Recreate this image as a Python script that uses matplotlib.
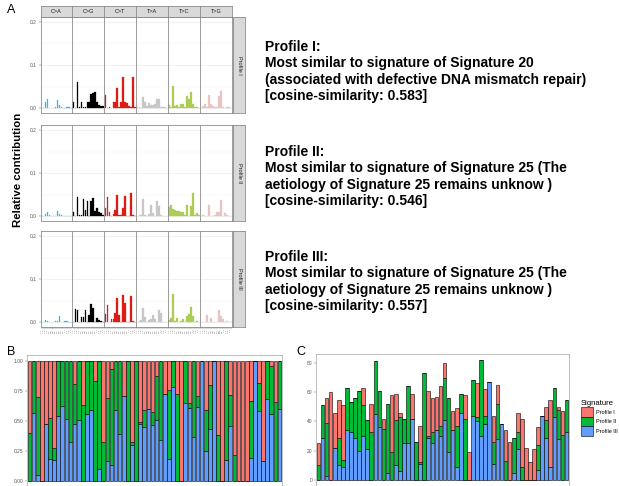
import numpy as np
import matplotlib
matplotlib.use("Agg")
import matplotlib.pyplot as plt
from matplotlib.patches import Patch

plt.rcParams['font.family'] = ['Liberation Sans', 'DejaVu Sans']

# ---- panel A: 96-channel profiles ----
mut_types = ["C>A", "C>G", "C>T", "T>A", "T>C", "T>G"]
mut_colors = ["#2EBAED", "#000000", "#DE1C14", "#C8C6C6", "#ADCC54", "#E8C4C2"]
contexts = ["A.A", "A.C", "A.G", "A.T", "C.A", "C.C", "C.G", "C.T",
            "G.A", "G.C", "G.G", "G.T", "T.A", "T.C", "T.G", "T.T"]
profile_names = ["Profile I", "Profile II", "Profile III"]

profile_1 = [
    0.001, 0.001, 0.013, 0.020, 0.001, 0.001, 0.001, 0.002, 0.018, 0.008, 0.002, 0.001, 0.001, 0.003, 0.002, 0.001,
    0.015, 0.000, 0.060, 0.003, 0.015, 0.002, 0.003, 0.015, 0.015, 0.033, 0.036, 0.037, 0.014, 0.008, 0.005, 0.004,
    0.031, 0.001, 0.002, 0.001, 0.013, 0.013, 0.047, 0.002, 0.013, 0.072, 0.013, 0.012, 0.004, 0.002, 0.071, 0.002,
    0.002, 0.003, 0.001, 0.026, 0.015, 0.004, 0.012, 0.008, 0.006, 0.010, 0.022, 0.020, 0.003, 0.002, 0.002, 0.001,
    0.006, 0.003, 0.052, 0.004, 0.008, 0.003, 0.010, 0.009, 0.003, 0.028, 0.020, 0.038, 0.010, 0.002, 0.002, 0.001,
    0.001, 0.004, 0.009, 0.002, 0.031, 0.010, 0.004, 0.002, 0.002, 0.027, 0.040, 0.003, 0.001, 0.003, 0.003, 0.001,
]
profile_2 = [
    0.001, 0.001, 0.005, 0.010, 0.003, 0.001, 0.001, 0.001, 0.012, 0.005, 0.002, 0.001, 0.001, 0.001, 0.001, 0.001,
    0.010, 0.001, 0.045, 0.003, 0.003, 0.040, 0.015, 0.036, 0.001, 0.035, 0.043, 0.012, 0.018, 0.010, 0.006, 0.003,
    0.018, 0.045, 0.010, 0.001, 0.005, 0.013, 0.050, 0.002, 0.003, 0.018, 0.046, 0.001, 0.001, 0.054, 0.002, 0.001,
    0.001, 0.002, 0.003, 0.040, 0.003, 0.001, 0.005, 0.025, 0.006, 0.001, 0.035, 0.023, 0.002, 0.001, 0.001, 0.001,
    0.020, 0.025, 0.017, 0.013, 0.012, 0.011, 0.010, 0.010, 0.003, 0.025, 0.001, 0.024, 0.053, 0.002, 0.007, 0.002,
    0.001, 0.003, 0.001, 0.001, 0.026, 0.001, 0.001, 0.003, 0.010, 0.010, 0.037, 0.001, 0.008, 0.002, 0.001, 0.001,
]
profile_3 = [
    0.001, 0.001, 0.005, 0.002, 0.001, 0.001, 0.001, 0.002, 0.003, 0.013, 0.001, 0.001, 0.002, 0.002, 0.001, 0.001,
    0.001, 0.030, 0.029, 0.001, 0.012, 0.012, 0.029, 0.001, 0.016, 0.042, 0.033, 0.001, 0.010, 0.005, 0.003, 0.001,
    0.018, 0.039, 0.001, 0.008, 0.008, 0.020, 0.055, 0.017, 0.001, 0.063, 0.044, 0.001, 0.001, 0.061, 0.003, 0.001,
    0.001, 0.002, 0.005, 0.032, 0.012, 0.001, 0.004, 0.006, 0.017, 0.007, 0.001, 0.029, 0.022, 0.001, 0.001, 0.001,
    0.005, 0.010, 0.066, 0.002, 0.010, 0.001, 0.003, 0.008, 0.001, 0.014, 0.018, 0.034, 0.013, 0.001, 0.003, 0.001,
    0.001, 0.001, 0.001, 0.016, 0.001, 0.010, 0.001, 0.001, 0.001, 0.029, 0.013, 0.008, 0.001, 0.002, 0.001, 0.001,
]
profiles = [profile_1, profile_2, profile_3]

profile_notes = [
    ["Profile I:", "Most similar to signature of Signature 20",
     "(associated with defective DNA mismatch repair)", "[cosine-similarity: 0.583]"],
    ["Profile II:", "Most similar to signature of Signature 25 (The",
     "aetiology of Signature 25 remains unknow )", "[cosine-similarity: 0.546]"],
    ["Profile III:", "Most similar to signature of Signature 25 (The",
     "aetiology of Signature 25 remains unknow )", "[cosine-similarity: 0.557]"],
]

# ---- panels B and C: absolute contribution per sample ----
contrib_1 = [15, 0, 17, 60, 24, 26, 37, 0, 0, 0, 0, 12, 0, 19, 0, 0, 7, 0, 39, 18, 3,
             0, 0, 17, 0, 25, 0, 31, 23, 23, 27, 10, 0, 13, 12, 0, 16, 19, 0, 23, 0,
             18, 0, 18, 13, 0, 21, 26, 0, 13, 33, 22, 12, 21, 12, 0, 9, 46, 0, 2, 16, 0]
contrib_2 = [10, 22, 36, 0, 0, 19, 5, 29, 20, 27, 41, 21, 20, 33, 36, 25, 35, 47, 19, 31, 37,
             17, 39, 0, 26, 1, 73, 1, 8, 0, 7, 29, 37, 0, 28, 13, 42, 0, 24, 3, 52,
             6, 0, 15, 24, 0, 13, 0, 24, 12, 9, 0, 0, 0, 17, 0, 12, 0, 20, 20, 31, 22]
contrib_3 = [0, 29, 3, 0, 22, 10, 9, 34, 33, 29, 20, 30, 21, 0, 45, 36, 0, 5, 0, 10, 6,
             25, 25, 42, 0, 11, 0, 29, 25, 34, 30, 41, 19, 34, 9, 46, 0, 0, 44, 40, 30,
             38, 67, 11, 28, 38, 0, 0, 5, 21, 0, 0, 0, 0, 7, 44, 29, 9, 43, 28, 0, 33]
sig_colors = ["#F8766D", "#00BA38", "#619CFF"]

W, H = 619, 486
fig = plt.figure(figsize=(W / 100, H / 100), dpi=100)


def box(l, t, r, b):
    return [l / W, 1 - b / H, (r - l) / W, (b - t) / H]


border = "#8C8C8C"
tick_grey = "#555555"
col_edges = [40.5 + i * 31.9 for i in range(7)]
zero_rows = [108, 216, 322]
px_per_unit = 430
ylo, yhi = -0.0105, 0.2105

for r, vals in enumerate(profiles):
    top = zero_rows[r] - yhi * px_per_unit
    bot = zero_rows[r] - ylo * px_per_unit
    for c in range(6):
        ax = fig.add_axes(box(col_edges[c], top, col_edges[c + 1], bot))
        ax.bar(np.arange(1, 17), vals[c * 16:(c + 1) * 16], width=0.85,
               color=mut_colors[c], edgecolor=mut_colors[c], linewidth=0.2)
        ax.set_xlim(0.4, 16.6)
        ax.set_ylim(ylo, yhi)
        ax.set_yticks([0, 0.1, 0.2])
        ax.set_yticks([0.05, 0.15], minor=True)
        ax.grid(which="major", axis="y", color="#E6E6E6", lw=0.4)
        ax.grid(which="minor", axis="y", color="#F2F2F2", lw=0.3)
        ax.set_axisbelow(True)
        for s in ax.spines.values():
            s.set_color(border)
            s.set_linewidth(0.6)
        ax.tick_params(which="minor", length=0)
        if c == 0:
            ax.set_yticklabels(["0.0", "0.1", "0.2"], fontsize=3.5, color=tick_grey)
            ax.tick_params(axis="y", length=1.5, width=0.3, pad=1, color=tick_grey)
        else:
            ax.tick_params(axis="y", left=False, labelleft=False)
        if r == 2:
            ax.set_xticks(np.arange(1, 17))
            ax.set_xticklabels(contexts, rotation=90, fontsize=1.5, color=tick_grey)
            ax.tick_params(axis="x", length=1.2, width=0.3, pad=0.8, color=tick_grey)
        else:
            ax.set_xticks([])
        if r == 0:
            sax = fig.add_axes(box(col_edges[c], 6, col_edges[c + 1], top))
            sax.set_facecolor("#D9D9D9")
            sax.set_xticks([])
            sax.set_yticks([])
            for s in sax.spines.values():
                s.set_color(border)
                s.set_linewidth(0.6)
            sax.text(0.5, 0.5, mut_types[c], ha="center", va="center",
                     fontsize=4, color="#1A1A1A", transform=sax.transAxes)
    rax = fig.add_axes(box(233, top, 245, bot))
    rax.set_facecolor("#D9D9D9")
    rax.set_xticks([])
    rax.set_yticks([])
    for s in rax.spines.values():
        s.set_color(border)
        s.set_linewidth(0.6)
    rax.text(0.5, 0.5, profile_names[r], ha="center", va="center", rotation=-90,
             fontsize=4, color="#1A1A1A", transform=rax.transAxes)

fig.text(18 / W, 1 - 170 / H, "Relative contribution", rotation=90, ha="center",
         va="center", fontsize=8.2, fontweight="bold")

note_tops = [47, 152, 257]
for block, y0 in zip(profile_notes, note_tops):
    for k, line in enumerate(block):
        fig.text(265 / W, 1 - (y0 + k * 16.4) / H, line, ha="left", va="center",
                 fontsize=10, fontweight="bold")

fig.text(7 / W, 1 - 10 / H, "A", fontsize=9, va="center", ha="left")
fig.text(7 / W, 1 - 352 / H, "B", fontsize=9, va="center", ha="left")
fig.text(296 / W, 1 - 352 / H, "C", fontsize=9, va="center", ha="left")

# ---- B: relative, C: absolute ----
c1 = np.array(contrib_1, float)
c2 = np.array(contrib_2, float)
c3 = np.array(contrib_3, float)
tot = c1 + c2 + c3
x = np.arange(1, len(tot) + 1)


def stacked(ax, a3, a2, a1):
    ax.bar(x, a3, width=0.9, color=sig_colors[2], edgecolor="black", linewidth=0.4)
    ax.bar(x, a2, bottom=a3, width=0.9, color=sig_colors[1], edgecolor="black", linewidth=0.4)
    ax.bar(x, a1, bottom=a3 + a2, width=0.9, color=sig_colors[0], edgecolor="black", linewidth=0.4)
    ax.set_xlim(0.4, len(x) + 0.6)
    ax.set_xticks([])
    for s in ax.spines.values():
        s.set_color("#B3B3B3")
        s.set_linewidth(0.6)
    ax.tick_params(axis="y", labelsize=3.5, labelcolor=tick_grey, length=1.5,
                   width=0.3, pad=1, color=tick_grey)


axb = fig.add_axes(box(27, 355, 282, 487))
stacked(axb, c3 / tot, c2 / tot, c1 / tot)
axb.set_ylim(-0.05, 1.05)
axb.set_yticks([0, 0.25, 0.5, 0.75, 1.0])
axb.set_yticklabels(["0.00", "0.25", "0.50", "0.75", "1.00"])

axc = fig.add_axes(box(316, 354, 569, 486))
stacked(axc, c3, c2, c1)
axc.set_ylim(-4.1, 86.1)
axc.set_yticks([0, 20, 40, 60, 80])

handles = [Patch(facecolor=col, edgecolor="black", linewidth=0.4, label=lab)
           for col, lab in zip(sig_colors, profile_names)]
fig.legend(handles=handles, title="Signature", loc="upper left",
           bbox_to_anchor=(576 / W, 1 - 395 / H), frameon=False, fontsize=4,
           title_fontsize=5.5, handlelength=2.2, handleheight=2.2,
           handletextpad=0.5, labelspacing=0.05, alignment="left")

fig.savefig("out.png", dpi=100)
